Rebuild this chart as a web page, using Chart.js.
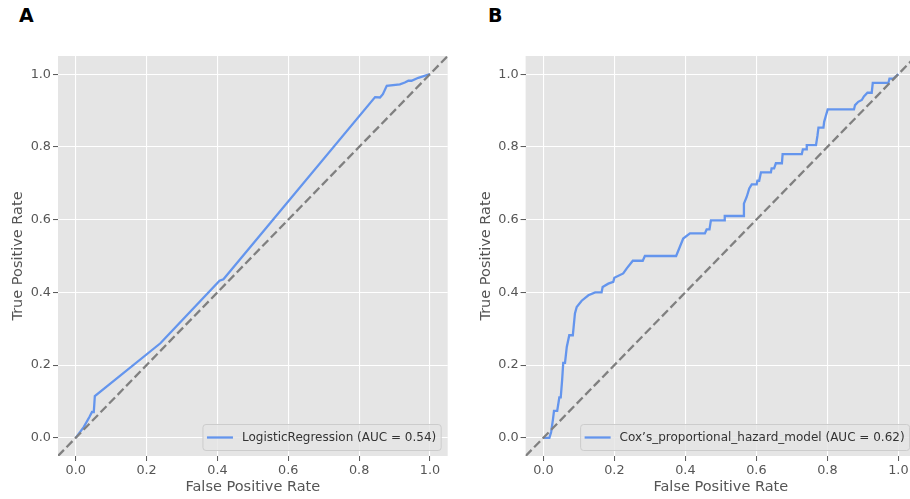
<!DOCTYPE html>
<html>
<head>
<meta charset="utf-8">
<script src="https://cdn.jsdelivr.net/npm/chart.js@4/dist/chart.umd.min.js"></script>
<style>
  html, body { margin: 0; padding: 0; background: #fff; overflow: hidden; width: 910px; height: 499px; }
  canvas { position: absolute; top: 0; }
  #chartA { left: 0; }
  #chartB { left: 460px; }
  .panel-tag { position: absolute; top: 6px; font: bold 19px "DejaVu Sans", sans-serif; line-height: 19px; color: #000; }
</style>
</head>
<body>
<div class="panel-tag" style="left:19px">A</div>
<div class="panel-tag" style="left:488px">B</div>
<canvas id="chartA" width="460" height="499"></canvas>
<canvas id="chartB" width="460" height="499"></canvas>
<script>
// ROC curve points (false positive rate / true positive rate)
const lrFpr = [0, 0.023, 0.039, 0.046, 0.051, 0.054, 0.239, 0.406, 0.417, 0.845, 0.859, 0.867, 0.878, 0.915, 0.929, 0.939, 0.948, 0.967, 1.0];
const lrTpr = [0, 0.030, 0.058, 0.071, 0.071, 0.115, 0.260, 0.432, 0.436, 0.937, 0.936, 0.945, 0.968, 0.972, 0.977, 0.982, 0.982, 0.990, 1.0];

const coxFpr = [0, 0.017, 0.022, 0.027, 0.030, 0.039, 0.045, 0.049, 0.053, 0.056, 0.061, 0.066, 0.073, 0.083, 0.089, 0.094,
  0.108, 0.127, 0.146, 0.164, 0.167, 0.183, 0.197, 0.200, 0.225, 0.235, 0.252, 0.280, 0.286, 0.374, 0.394, 0.413,
  0.455, 0.460, 0.468, 0.472, 0.509, 0.511, 0.563, 0.565, 0.573, 0.580, 0.587, 0.601, 0.603, 0.608, 0.613, 0.641,
  0.643, 0.650, 0.655, 0.672, 0.674, 0.728, 0.731, 0.740, 0.742, 0.768, 0.772, 0.775, 0.789, 0.791, 0.795, 0.801,
  0.875, 0.878, 0.887, 0.897, 0.903, 0.913, 0.925, 0.928, 0.972, 0.975, 0.986, 1.0];
const coxTpr = [0, 0, 0.016, 0.050, 0.074, 0.074, 0.111, 0.111, 0.160, 0.206, 0.206, 0.250, 0.282, 0.282, 0.342, 0.360,
  0.377, 0.392, 0.400, 0.400, 0.415, 0.424, 0.429, 0.440, 0.452, 0.466, 0.487, 0.487, 0.500, 0.500, 0.548, 0.562,
  0.562, 0.573, 0.573, 0.598, 0.598, 0.610, 0.610, 0.644, 0.663, 0.686, 0.697, 0.697, 0.707, 0.707, 0.730, 0.730,
  0.741, 0.741, 0.755, 0.755, 0.780, 0.780, 0.793, 0.793, 0.805, 0.805, 0.830, 0.853, 0.853, 0.869, 0.883, 0.903,
  0.903, 0.915, 0.924, 0.929, 0.939, 0.949, 0.949, 0.976, 0.976, 0.988, 0.988, 1.0];

// chance diagonal, run across the full axis range
const chanceLine = [-0.05, 1.05];

const tickValues = [0, 0.2, 0.4, 0.6, 0.8, 1.0];
const axisMin = -0.05;
const axisMax = 1.05;

const lrLabel = 'LogisticRegression (AUC = 0.54)';
const coxLabel = 'Cox\u2019s_proportional_hazard_model (AUC = 0.62)';

const GREY_TEXT = '#555555';
const FONT = '"DejaVu Sans", sans-serif';

const panelBackground = {
  id: 'panelBackground',
  beforeDraw(chart) {
    const {ctx, chartArea: a} = chart;
    ctx.save();
    ctx.fillStyle = '#E5E5E5';
    ctx.fillRect(a.left, a.top, a.right - a.left, a.bottom - a.top);
    ctx.restore();
  }
};

// legend box in the lower right corner, like matplotlib's loc="lower right"
const cornerLegend = {
  id: 'cornerLegend',
  afterDatasetsDraw(chart) {
    const {ctx, chartArea: a} = chart;
    const ds = chart.data.datasets[1];
    ctx.save();
    ctx.font = '12px ' + FONT;
    const tw = ctx.measureText(ds.label).width;
    const h = 26;
    const w = 39 + tw + 5;
    const x = a.right - 6.5 - w;
    const y = a.bottom - 5.5 - h;
    ctx.beginPath();
    ctx.roundRect(x, y, w, h, 3);
    ctx.fillStyle = 'rgba(229,229,229,0.8)';
    ctx.fill();
    ctx.strokeStyle = '#CCCCCC';
    ctx.lineWidth = 1;
    ctx.stroke();
    const cy = y + h / 2;
    ctx.beginPath();
    ctx.moveTo(x + 4, cy);
    ctx.lineTo(x + 30, cy);
    ctx.strokeStyle = ds.borderColor;
    ctx.lineWidth = ds.borderWidth;
    ctx.stroke();
    ctx.fillStyle = '#333333';
    ctx.textBaseline = 'middle';
    ctx.fillText(ds.label, x + 39, cy + 0.5);
    ctx.restore();
  }
};

function toPoints(xs, ys) {
  return xs.map((x, i) => ({x: x, y: ys[i]}));
}

function makeAxis(title, isY, fixedSize) {
  return {
    type: 'linear',
    min: axisMin,
    max: axisMax,
    afterBuildTicks: (scale) => {
      scale.ticks = tickValues.map(v => ({value: v}));
    },
    afterFit: (scale) => {
      if (isY) scale.width = fixedSize; else scale.height = fixedSize;
    },
    border: {display: false},
    grid: {
      color: '#FFFFFF',
      lineWidth: 1.1,
      tickColor: GREY_TEXT,
      tickLength: 5,
      tickWidth: 1
    },
    ticks: {
      color: GREY_TEXT,
      padding: 2,
      maxRotation: 0,
      font: {family: FONT, size: 12.8},
      callback: (v) => Number(v).toFixed(1)
    },
    title: {
      display: true,
      text: title,
      color: GREY_TEXT,
      font: {family: FONT, size: 14.5},
      padding: isY ? {top: 9.5, bottom: 0} : {top: 0, bottom: 3.5}
    }
  };
}

function drawRoc(canvasId, fpr, tpr, label, padding) {
  return new Chart(document.getElementById(canvasId), {
    type: 'line',
    data: {
      datasets: [
        {
          label: 'chance',
          data: toPoints(chanceLine, chanceLine),
          borderColor: '#808080',
          borderWidth: 2.3,
          borderDash: [8.5, 3.7],
          pointRadius: 0
        },
        {
          label: label,
          data: toPoints(fpr, tpr),
          borderColor: '#6495ED',
          borderWidth: 2.3,
          pointRadius: 0,
          tension: 0
        }
      ]
    },
    options: {
      responsive: false,
      animation: false,
      layout: {padding: padding},
      plugins: {legend: {display: false}, tooltip: {enabled: false}},
      scales: {
        x: makeAxis('False Positive Rate', false, 43),
        y: makeAxis('True Positive Rate', true, 58)
      }
    },
    plugins: [panelBackground, cornerLegend]
  });
}

drawRoc('chartA', lrFpr, lrTpr, lrLabel, {left: 0, right: 12.3, top: 56, bottom: 0});
drawRoc('chartB', coxFpr, coxTpr, coxLabel, {left: 7.6, right: 3.9, top: 56, bottom: 0});
</script>
</body>
</html>
